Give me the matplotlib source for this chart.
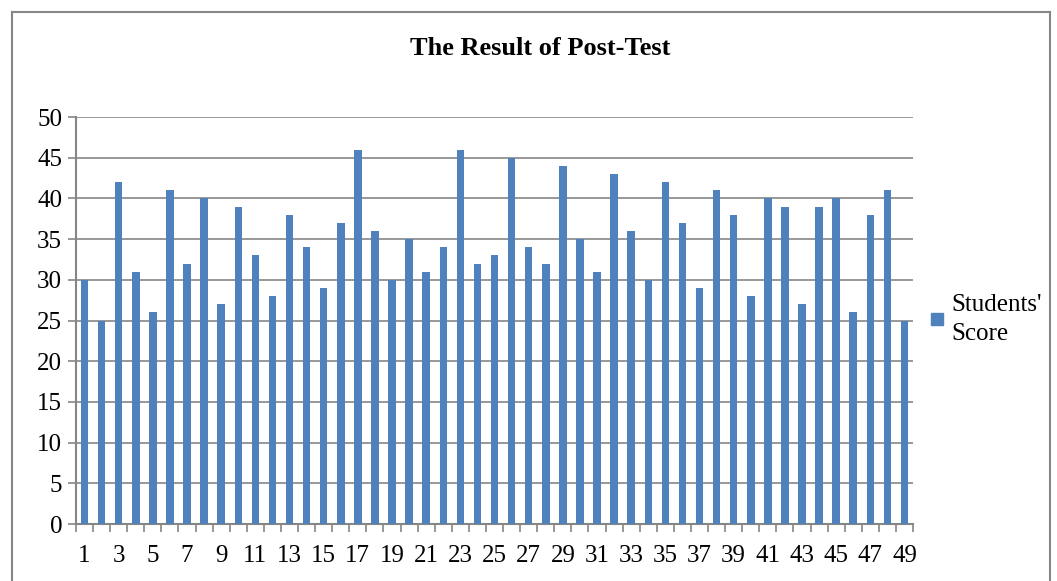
import matplotlib.pyplot as plt
from matplotlib.lines import Line2D
import numpy as np

plt.rcParams['font.family'] = ['Liberation Serif', 'DejaVu Serif']

# data
students = list(range(1, 50))
scores = [30, 25, 42, 31, 26, 41, 32, 40, 27, 39,
          33, 28, 38, 34, 29, 37, 46, 36, 30, 35,
          31, 34, 46, 32, 33, 45, 34, 32, 44, 35,
          31, 43, 36, 30, 42, 37, 29, 41, 38, 28,
          40, 39, 27, 39, 40, 26, 38, 41, 25]
y_ticks = [0, 5, 10, 15, 20, 25, 30, 35, 40, 45, 50]
x_labels = [str(s) for s in students[::2]]

bar_color = '#4f81bd'
grid_color = '#868686'

fig = plt.figure(figsize=(10.57, 5.81), dpi=100)
ax = fig.add_axes([0.0719, 0.0981, 0.7919, 0.7005])

ax.bar(students, scores, width=0.44, color=bar_color, zorder=3, label="Students'\nScore")

ax.set_xlim(0.5, 49.5)
ax.set_ylim(0, 50)
ax.set_yticks(y_ticks)
ax.yaxis.grid(True, color=grid_color, linewidth=1.2, zorder=0)

# category labels on odd students, tick marks at the category boundaries
ax.set_xticks(students[::2])
ax.set_xticklabels(x_labels, fontsize=18)
ax.set_xticks(np.arange(0.5, 50, 1), minor=True)
ax.tick_params(axis='x', which='major', length=0, pad=15)
ax.tick_params(axis='x', which='minor', length=6, color=grid_color, width=1.2)
ax.tick_params(axis='y', length=6, color=grid_color, width=1.2, labelsize=18, pad=4)

for side in ['top', 'right']:
    ax.spines[side].set_visible(False)
for side in ['left', 'bottom']:
    ax.spines[side].set_color(grid_color)
    ax.spines[side].set_linewidth(1.5)

fig.text(0.511, 0.917, 'The Result of Post-Test', ha='center', va='center',
         fontsize=19, fontweight='bold')

handle = Line2D([], [], marker='s', color='none', markerfacecolor=bar_color,
                markeredgecolor=bar_color, markersize=9)
leg = fig.legend([handle], ["Students'\nScore"], loc='center left',
                 bbox_to_anchor=(0.879, 0.45), frameon=False, fontsize=18,
                 handlelength=0.6, handletextpad=0.3, borderaxespad=0, borderpad=0)
for t in leg.get_texts():
    t.set_linespacing(1.45)

# chart area frame
fig.add_artist(Line2D([12/1057, 12/1057], [0, 569/581], transform=fig.transFigure,
                      color=grid_color, linewidth=1.5))
fig.add_artist(Line2D([12/1057, 1050/1057], [569/581, 569/581], transform=fig.transFigure,
                      color=grid_color, linewidth=1.5))
fig.add_artist(Line2D([1050/1057, 1050/1057], [0, 569/581], transform=fig.transFigure,
                      color=grid_color, linewidth=1.5))

fig.savefig('out.png', dpi=100)
